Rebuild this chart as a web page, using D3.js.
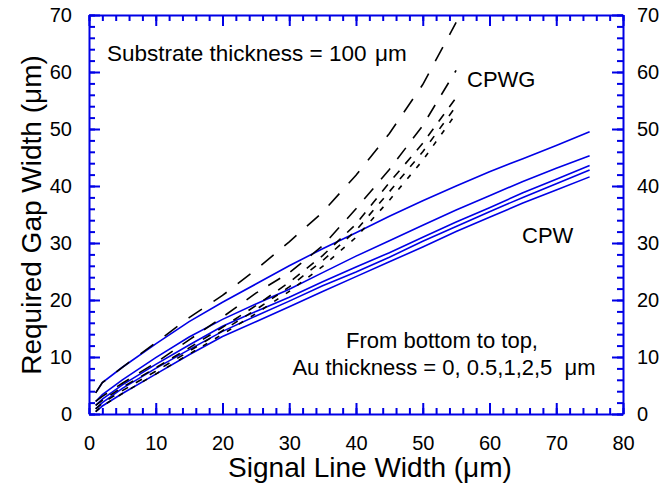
<!DOCTYPE html>
<style>
body { margin: 0; background: #fff; }
text { font-family: Arial, "Liberation Sans", sans-serif; fill: #000; }
.axis path, .axis line { stroke: #0000e6; }
.curve { fill: none; }
</style>
<body>
<script src="https://d3js.org/d3.v7.min.js"></script>
<script>
var width = 663, height = 485;

// signal line width (um)
var cpwX = [1, 2, 5, 10, 15, 20, 25, 30, 35, 40, 45, 50, 55, 60, 65, 70, 75];
var cpwgX = [1, 2, 5, 10, 15, 20, 25, 30, 35, 40, 45, 50, 55];

// CPW gap width for Au thickness 0, 0.5, 1, 2, 5 um
var cpwAu0  = [0.4, 1.4, 3.6, 7.0, 10.4, 13.6, 16.2, 18.8, 21.5, 24.1, 26.7, 29.3, 32.0, 34.5, 37.0, 39.3, 41.6];
var cpwAu05 = [0.9, 2.0, 4.5, 8.0, 11.3, 14.5, 17.2, 19.8, 22.5, 24.9, 27.5, 30.3, 32.9, 35.5, 38.0, 40.4, 42.8];
var cpwAu1  = [1.5, 2.6, 5.1, 8.7, 12.1, 15.4, 18.0, 20.5, 23.2, 25.8, 28.3, 31.0, 33.7, 36.2, 38.8, 41.2, 43.6];
var cpwAu2  = [2.2, 3.4, 6.0, 9.9, 13.5, 16.6, 19.3, 21.9, 24.8, 27.7, 30.4, 33.1, 35.8, 38.3, 40.8, 43.1, 45.3];
var cpwAu5  = [3.7, 5.5, 8.2, 12.3, 16.2, 19.6, 22.8, 26.0, 29.0, 31.8, 34.7, 37.4, 40.0, 42.5, 44.8, 47.1, 49.5];

// CPWG gap width, same Au thicknesses
var cpwgAu0  = [0.4, 1.4, 3.6, 7.0, 10.5, 14.0, 17.6, 21.5, 25.9, 31.0, 37.5, 44.5, 52.7];
var cpwgAu05 = [0.9, 1.9, 4.1, 7.5, 11.0, 14.6, 18.3, 22.3, 26.9, 32.2, 39.0, 46.0, 54.0];
var cpwgAu1  = [1.5, 2.4, 4.7, 8.1, 11.6, 15.2, 19.0, 23.1, 27.8, 33.3, 40.6, 47.5, 55.5];
var cpwgAu2  = [2.2, 3.1, 5.4, 9.0, 13.0, 17.0, 21.2, 24.8, 29.5, 36.0, 42.9, 50.6, 60.3];
var cpwgAu5  = [3.7, 5.5, 8.2, 12.5, 16.9, 20.8, 25.3, 30.2, 35.4, 41.9, 49.2, 57.8, 68.7];

var xTicks = [0, 10, 20, 30, 40, 50, 60, 70, 80];
var yTicks = [0, 10, 20, 30, 40, 50, 60, 70];

var mLeft = 89, mRight = 623, mTop = 15, mBottom = 414;

var svg = d3.select("body").append("svg")
    .attr("width", width)
    .attr("height", height);

var x = d3.scaleLinear().domain([0, 80]).range([mLeft, mRight]);
var y = d3.scaleLinear().domain([0, 70]).range([mBottom, mTop]);

var minorX = d3.range(0, 81, 2), minorY = d3.range(0, 71, 2);

function drawAxis(axisFn, scale, major, minor, tr, pad, labels) {
  svg.append("g").attr("class", "axis")
    .attr("transform", tr)
    .call(axisFn(scale).tickValues(minor).tickSize(-6).tickFormat(""))
    .call(function(g) { g.select(".domain").remove(); });
  var g = svg.append("g").attr("class", "axis")
    .attr("transform", tr)
    .call(axisFn(scale).tickValues(major).tickSizeInner(-11).tickSizeOuter(0)
      .tickPadding(pad).tickFormat(labels ? d3.format("d") : ""));
  g.selectAll("text").attr("font-size", 20).attr("fill", "#000");
  return g;
}

drawAxis(d3.axisBottom, x, xTicks, minorX, "translate(0," + mBottom + ")", 22, true);
drawAxis(d3.axisTop, x, xTicks, minorX, "translate(0," + mTop + ")", 0, false);
drawAxis(d3.axisLeft, y, yTicks, minorY, "translate(" + mLeft + ",0)", 17, true);
drawAxis(d3.axisRight, y, yTicks, minorY, "translate(" + mRight + ",0)", 14, true);
svg.selectAll(".axis path, .axis line").attr("stroke-width", 2);

var line = d3.line()
  .x(function(d) { return x(d[0]); })
  .y(function(d) { return y(d[1]); });

var cpw = [cpwAu0, cpwAu05, cpwAu1, cpwAu2, cpwAu5];
cpw.forEach(function(s) {
  svg.append("path")
    .attr("class", "curve")
    .attr("stroke", "#0000e6")
    .attr("stroke-width", 1.6)
    .attr("d", line(d3.zip(cpwX, s)));
});

var cpwg = [cpwgAu0, cpwgAu05, cpwgAu1, cpwgAu2, cpwgAu5];
var dashes = ["5,9", "7,9", "9,9", "14,12", "16,14"];
cpwg.forEach(function(s, i) {
  svg.append("path")
    .attr("class", "curve")
    .attr("stroke", "#000")
    .attr("stroke-width", 1.6)
    .attr("stroke-dasharray", dashes[i])
    .attr("d", line(d3.zip(cpwgX, s)));
});

svg.append("text").attr("x", 107).attr("y", 61).attr("font-size", 22.5)
  .text("Substrate thickness = 100");
svg.append("text").attr("x", 375).attr("y", 61).attr("font-size", 22.5)
  .text("\u03bcm");
svg.append("text").attr("x", 467).attr("y", 87).attr("font-size", 22).text("CPWG");
svg.append("text").attr("x", 522).attr("y", 243).attr("font-size", 22).text("CPW");
svg.append("text").attr("x", 442).attr("y", 348).attr("font-size", 22)
  .attr("text-anchor", "middle").text("From bottom to top,");
svg.append("text").attr("x", 444).attr("y", 375).attr("font-size", 22)
  .attr("text-anchor", "middle").text("Au thickness = 0, 0.5,1,2,5 \u00a0\u03bcm");

svg.append("text").attr("x", 370).attr("y", 477).attr("font-size", 28)
  .attr("text-anchor", "middle").text("Signal Line Width (\u03bcm)");
svg.append("text")
  .attr("transform", "translate(41,215) rotate(-90)")
  .attr("font-size", 28).attr("text-anchor", "middle")
  .text("Required Gap Width (\u03bcm)");
</script>
</body>
